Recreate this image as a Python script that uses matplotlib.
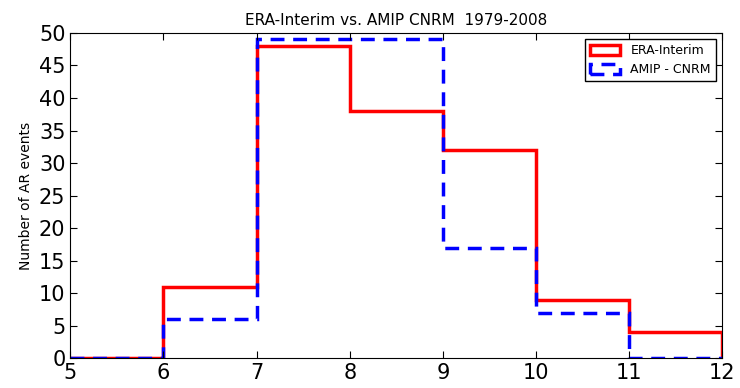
import matplotlib
matplotlib.use("Agg")
import matplotlib.pyplot as plt
from matplotlib.patches import Patch

edges = [5, 6, 7, 8, 9, 10, 11, 12]
era_interim = [0, 11, 48, 38, 32, 9, 4]
amip_cnrm = [0, 6, 49, 49, 17, 7, 0]

fig = plt.figure(figsize=(7.4, 3.88), dpi=100)
ax = fig.add_axes([0.095, 0.077, 0.881, 0.838])

ax.stairs(era_interim, edges, color='red', linewidth=2.5, baseline=0)
ax.stairs(amip_cnrm, edges, color='blue', linewidth=2.5, linestyle=(0, (4, 2.5)), baseline=0)

ax.set_xlim(5, 12)
ax.set_ylim(0, 50)
ax.set_xticks(range(5, 13))
ax.set_yticks(range(0, 51, 5))
ax.tick_params(direction='in', labelsize=15, length=5, top=True, right=True)
ax.set_ylabel('Number of AR events', fontsize=10)
ax.set_title('ERA-Interim vs. AMIP CNRM  1979-2008', fontsize=11)

handles = [
    Patch(facecolor='none', edgecolor='red', linewidth=2.5, label='ERA-Interim'),
    Patch(facecolor='none', edgecolor='blue', linewidth=2.5, linestyle=(0, (4, 2.5)),
          label='AMIP - CNRM'),
]
ax.legend(handles=handles, loc='upper right', fontsize=9, fancybox=False,
          edgecolor='black', framealpha=1, handlelength=2.4, handleheight=0.8,
          borderaxespad=0.5)

fig.savefig('out.png', dpi=100)
